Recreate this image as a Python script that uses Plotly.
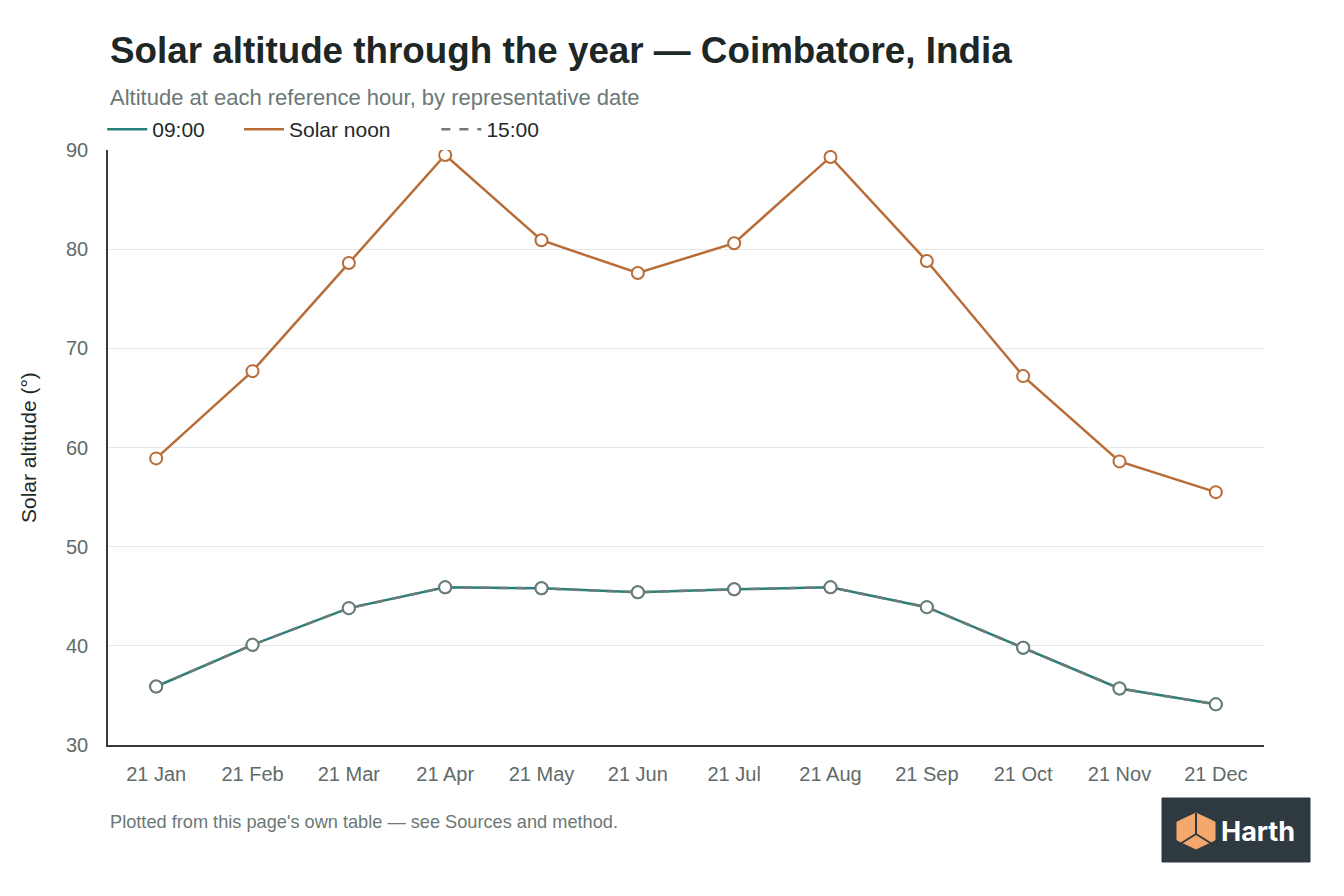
import plotly.graph_objects as go

dates = ["21 Jan", "21 Feb", "21 Mar", "21 Apr", "21 May", "21 Jun",
         "21 Jul", "21 Aug", "21 Sep", "21 Oct", "21 Nov", "21 Dec"]
alt_0900 = [35.9, 40.1, 43.8, 45.9, 45.8, 45.4, 45.7, 45.9, 43.9, 39.8, 35.7, 34.1]
alt_noon = [58.9, 67.7, 78.6, 89.5, 80.9, 77.6, 80.6, 89.3, 78.8, 67.2, 58.6, 55.5]
alt_1500 = [35.9, 40.1, 43.8, 45.9, 45.8, 45.4, 45.7, 45.9, 43.9, 39.8, 35.7, 34.1]
y_ticks = [30, 40, 50, 60, 70, 80, 90]

TEAL = "#2a7f78"
ORANGE = "#b86c38"
GREY = "#6d7b79"
FONT = "Liberation Sans, Arial, sans-serif"

# page body has an 8px margin; figure coords = page coords - 8
PL, PT, PR, PB = 108, 150, 1264, 745
W, H = PR - PL, PB - PT


def px(x):
    return (x - PL) / W


def py(y):
    return (PB - y) / H


series = [
    ("09:00", alt_0900, TEAL, "solid", "&nbsp;" * 5),
    ("Solar noon", alt_noon, ORANGE, "solid", "&nbsp;" * 7),
    ("15:00", alt_1500, GREY, "dash", ""),
]

fig = go.Figure()
for name, vals, col, dash, pad in series:
    fig.add_trace(go.Scatter(
        x=dates, y=vals, name=name + pad, mode="lines",
        line=dict(color=col, width=2.5, dash=dash),
        hovertemplate=name + ": %{y}°<extra></extra>",
    ))
for name, vals, col, dash, pad in series:
    fig.add_trace(go.Scatter(
        x=dates, y=vals, name=name, mode="markers", showlegend=False,
        marker=dict(size=12, color="white", line=dict(color=col, width=2)),
        hovertemplate=name + ": %{y}°<extra></extra>",
    ))

fig.update_layout(
    width=1344, height=896,
    paper_bgcolor="white", plot_bgcolor="white",
    margin=dict(l=PL - 8, r=1344 - (PR - 8), t=PT - 8, b=896 - (PB - 8)),
    font=dict(family=FONT, color="#5f6b69", size=20),
    showlegend=True,
    legend=dict(orientation="h", x=-0.005, y=1.0, xanchor="left", yanchor="bottom",
                font=dict(size=21, color="#1f2a2a"), itemwidth=40,
                tracegroupgap=0, bgcolor="rgba(0,0,0,0)"),
    xaxis=dict(
        showgrid=False, showline=True, linecolor="#3a3a3a", linewidth=1.5,
        ticks="", tickfont=dict(size=20, color="#5f6b69"),
        range=[-0.5, 11.5], zeroline=False, ticklabelstandoff=10,
    ),
    yaxis=dict(
        range=[30, 90], tickvals=y_ticks, showgrid=True, gridcolor="#e6e8e8",
        gridwidth=1, showline=True, linecolor="#3a3a3a", linewidth=1.5,
        ticks="", tickfont=dict(size=20, color="#5f6b69"), zeroline=False,
        ticklabelstandoff=14,
    ),
)

fig.add_annotation(text="Solar altitude (°)", xref="paper", yref="paper",
                   x=px(28), y=py(448), xanchor="center", yanchor="middle",
                   textangle=-90, showarrow=False,
                   font=dict(size=21, color="#1f2a2a"))
fig.add_annotation(text="<b>Solar altitude through the year — Coimbatore, India</b>",
                   xref="paper", yref="paper", x=0, y=py(51),
                   xanchor="left", yanchor="middle", showarrow=False,
                   font=dict(size=36.8, color="#1c2726"))
fig.add_annotation(text="Altitude at each reference hour, by representative date",
                   xref="paper", yref="paper", x=0, y=py(97),
                   xanchor="left", yanchor="middle", showarrow=False,
                   font=dict(size=22, color="#6b7876"))
fig.add_annotation(text="Plotted from this page's own table — see Sources and method.",
                   xref="paper", yref="paper", x=0, y=py(822),
                   xanchor="left", yanchor="middle", showarrow=False,
                   font=dict(size=18.2, color="#6b7876"))

# Harth badge (decoration)
fig.add_shape(type="rect", xref="paper", yref="paper",
              x0=px(1162), x1=px(1310), y0=py(862), y1=py(798),
              fillcolor="#2e3a40", line=dict(color="#2e3a40", width=1))
hexpath = "M {} {} L {} {} L {} {} L {} {} L {} {} L {} {} Z".format(
    px(1196), py(813), px(1215), py(822), px(1215), py(840),
    px(1196), py(849), px(1177), py(840), px(1177), py(822))
fig.add_shape(type="path", xref="paper", yref="paper", path=hexpath,
              fillcolor="#f4a86e", line=dict(color="#f4a86e", width=1))
for (x0, y0, x1, y1) in [(1196, 813, 1196, 834), (1196, 834, 1180, 844),
                         (1196, 834, 1212, 844)]:
    fig.add_shape(type="line", xref="paper", yref="paper",
                  x0=px(x0), y0=py(y0), x1=px(x1), y1=py(y1),
                  line=dict(color="#2e3a40", width=2))
fig.add_annotation(text="<b>Harth</b>", xref="paper", yref="paper",
                   x=px(1219), y=py(831), xanchor="left", yanchor="middle",
                   showarrow=False,
                   font=dict(size=27, color="white", family="Inter, Lato, sans-serif"))

fig.write_html("out.html")
